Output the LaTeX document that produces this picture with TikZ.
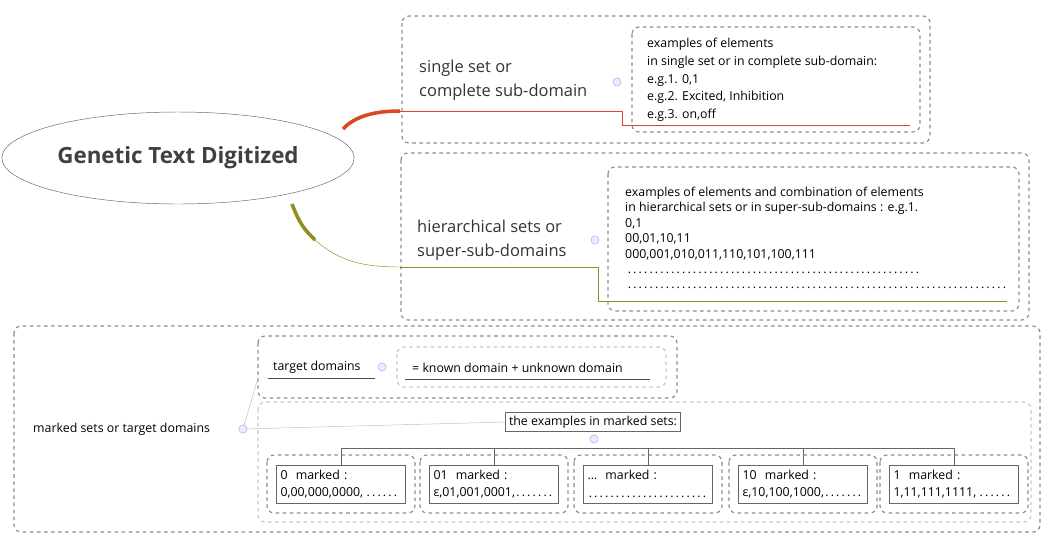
\documentclass[tikz,border=0pt]{standalone}
\usepackage{fontspec}
\setmainfont{Open Sans}
\usetikzlibrary{calc,backgrounds,shapes.geometric}
\newcommand{\framecolor}{black!45}
\newcommand{\lightframe}{black!22}
\newcommand{\redbranch}{red!45!brown}
\newcommand{\olivebranch}{olive!70!yellow!80!black}
\newcommand{\smallfont}{\fontsize{10.5}{15}\selectfont}
\newcommand{\dotlabel}{\ldots\ \ marked :}
\tikzset{
  grp/.style={draw=\framecolor, dashed, line width=1pt, rounded corners=6pt},
  lightgrp/.style={draw=\lightframe, dashed, line width=1pt, rounded corners=6pt},
  txt/.style={anchor=west, align=left, inner sep=0pt, font=\smallfont},
  topic/.style={anchor=west, align=left, inner sep=0pt, font=\fontsize{14}{20}\selectfont, text=black!80},
  fold/.style={circle, draw=blue!35, fill=blue!8, inner sep=0pt, minimum size=7pt},
}
\begin{document}
\begin{tikzpicture}[x=0.85pt, y=-0.85pt]
\useasboundingbox (0,0) rectangle (1056,550);
% root
\node[draw=black!60, ellipse, minimum width=276*0.85pt, minimum height=92*0.85pt, font=\fontsize{19}{22}\selectfont\bfseries, text=black!75] (root) at (178,158) {Genetic Text Digitized};
% single set
\draw[grp] (402,16) rectangle (930,143);
\node[topic] (single) at (419,80) {single set or\\complete sub-domain};
\node[fold] (f1) at (617,82) {};
\draw[grp] (632,27) rectangle (920,132);
\node[txt] (ex1) at (647,80) {examples of elements\\in single set or in complete sub-domain:\\e.g.1. 0,1\\e.g.2. Excited, Inhibition\\e.g.3. on,off};
\coordinate (r1) at (400,111);
\draw[\redbranch, line width=3pt] (343,129) .. controls (355,116) and (375,111) .. (r1);
\draw[\redbranch] (r1) -- (622,111) -- (622,125) -- (910,125);
% hierarchical
\draw[grp] (401,153) rectangle (1029,320);
\node[topic] (hier) at (417,240) {hierarchical sets or\\super-sub-domains};
\node[fold] (f2) at (595,240) {};
\draw[grp] (608,167) rectangle (1019,311);
\node[txt, font=\fontsize{10.5}{13.1}\selectfont] (ex2) at (625,238) {examples of elements and combination of elements\\in hierarchical sets or in super-sub-domains : e.g.1.\\0,1\\00,01,10,11\\000,001,010,011,110,101,100,111\\\makebox[252pt][l]{\dotfill}\\\makebox[326pt][l]{\dotfill}};
\coordinate (r2) at (400,267);
\draw[\olivebranch, line width=3pt] (292,204) .. controls (300,225) and (305,230) .. (315,240);
\draw[\olivebranch] (315,240) .. controls (340,262) and (365,267) .. (r2);
\draw[\olivebranch] (r2) -- (598,267) -- (598,301) -- (1007,301);
% marked sets
\draw[grp] (14,326) rectangle (1040,532);
\node[txt] (marked) at (33,429) {marked sets or target domains};
\node[fold] (f3) at (243,429) {};
\draw[grp] (258,336) rectangle (677,398);
\node[txt] (target) at (273,367) {target domains};
\draw[black!70] (268,378) -- (375,378);
\node[fold] (f4) at (382,367) {};
\draw[lightgrp] (397,347) rectangle (666,387);
\node[txt] (known) at (412,368) {= known domain + unknown domain};
\draw[black!70] (405,379) -- (650,379);
\draw[black!25] (f3) -- (258,378) -- (268,378);
\draw[lightgrp] (258,402) rectangle (1031,522);
\node[draw=black!60, inner sep=3pt, font=\smallfont] (examples) at (593,422) {the examples in marked sets:};
\draw[black!25] (f3) -- (examples.west);
\node[fold] (f5) at (594,439) {};
\draw[black!60] (341,448) -- (954,448);
\foreach \cx/\lab/\val [count=\i] in {341/{0\ \ marked :}/{0,00,000,0000,\dotfill},
  494/{01\ \ marked :}/{ε,01,001,0001,\dotfill},
  648/{\dotlabel}/{\dotfill},
  803/{10\ \ marked :}/{ε,10,100,1000,\dotfill},
  954/{1\ \ marked :}/{1,11,111,1111,\dotfill}} {
  \draw[grp] (\cx-74,455) rectangle (\cx+74,513);
  \node[draw=black!60, minimum width=129*0.85pt, minimum height=38*0.85pt, inner sep=0pt] (leaf\i) at (\cx,484) {};
  \node[txt, text width=120*0.85pt] (lab\i) at ($(leaf\i.west)+(4,0)$) {\lab\\\val};
  \draw[black!60] (\cx,448) -- (leaf\i.north);
}
\end{tikzpicture}
\end{document}
